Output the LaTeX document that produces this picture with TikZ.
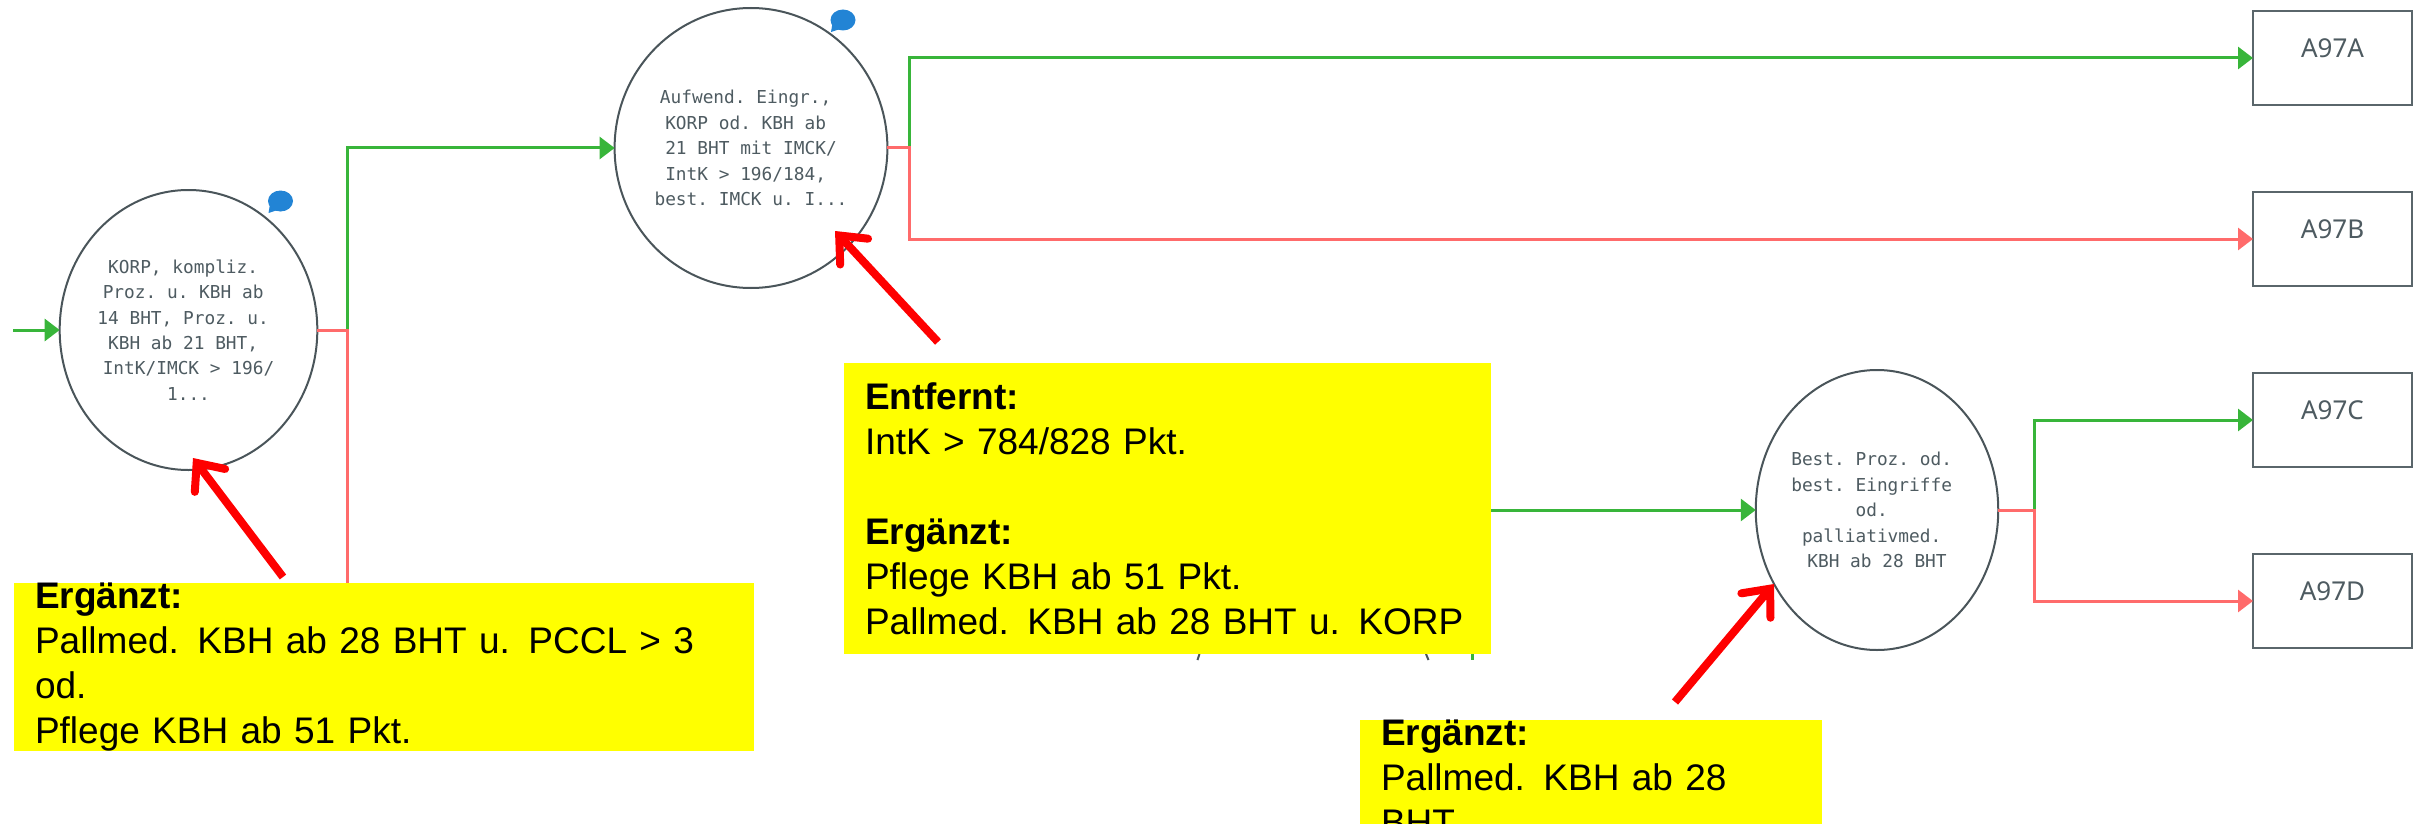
\documentclass[tikz,border=0pt]{standalone}
\usepackage{fontspec}
\setmainfont{Liberation Sans}
\setmonofont{DejaVu Sans Mono}
\newfontfamily\boxfont{Noto Sans}
\usetikzlibrary{arrows.meta, shapes.geometric}
\definecolor{yesgreen}{HTML}{38B53A}
\definecolor{nored}{HTML}{FF6B6B}
\definecolor{outline}{HTML}{4A555A}
\definecolor{boxline}{HTML}{5A666B}
\definecolor{nodetext}{HTML}{4E5B61}
\definecolor{notecol}{HTML}{2284D5}
\definecolor{callout}{HTML}{FFFF00}
\definecolor{pointer}{HTML}{FE0000}
\newcommand{\tsp}{\hphantom{x}}
\tikzset{
    decision/.style={ellipse, draw=outline, line width=1pt, fill=white, inner sep=0pt, outer sep=0pt, minimum width=119pt, minimum height=140pt, align=center, text=nodetext, font=\ttfamily\fontsize{8.9}{12.7}\selectfont, execute at begin node=\rule{0pt}{14pt}},
    exitbox/.style={rectangle, draw=boxline, line width=1.25pt, fill=white, inner sep=0pt, outer sep=0pt, minimum width=79.5pt, minimum height=47pt, text=nodetext, font=\boxfont\fontsize{13}{15}\selectfont, text depth=10pt},
    yesline/.style={draw=yesgreen, line width=1.5pt},
    noline/.style={draw=nored, line width=1.5pt},
    yestip/.style={-{Triangle[length=7.5pt, width=11pt]}},
    notebubble/.style={ellipse, fill=notecol, inner sep=0pt, minimum width=12.5pt, minimum height=10.5pt},
    calloutbox/.style={rectangle, fill=callout, anchor=north west, inner xsep=10.5pt, inner ysep=0pt, outer sep=0pt, align=left, font=\fontsize{18.5}{22.5}\selectfont},
    pointerline/.style={draw=pointer, line width=4pt, -{Straight Barb[length=11pt, width=19pt, line cap=round]}}
}
\begin{document}
\begin{tikzpicture}[x=0.5pt, y=-0.5pt]
    \useasboundingbox (0, 0) rectangle (2425, 824);

    \node (korp)[decision] at (188.5, 330) {KORP, kompliz.\tsp\\Proz. u. KBH ab\tsp\\14 BHT, Proz. u.\tsp\\KBH ab 21 BHT,\tsp\\IntK/IMCK > 196/\\1...};
    \node (aufwend)[decision] at (751, 148) {Aufwend. Eingr.,\tsp\\KORP od. KBH ab\tsp\\21 BHT mit IMCK/\\IntK > 196/184,\tsp\\best. IMCK u. I...};
    \node (best)[decision] at (1877, 510) {Best. Proz. od.\tsp\\best. Eingriffe\tsp\\od.\tsp\\palliativmed.\tsp\\KBH ab 28 BHT};

    \node (a97a)[exitbox] at (2332.5, 58) {A97A};
    \node (a97b)[exitbox] at (2332.5, 239) {A97B};
    \node (a97c)[exitbox] at (2332.5, 420) {A97C};
    \node (a97d)[exitbox] at (2332.5, 601) {A97D};

    \coordinate (entry) at (13, 330);
    \coordinate (korpfork) at (347, 330);
    \coordinate (korpend) at (347, 590);
    \coordinate (aufwendfork) at (909, 148);
    \coordinate (bestfork) at (2034, 510);
    \coordinate (hiddenfork) at (1472, 510);
    \coordinate (hiddenend) at (1472, 660);

    \draw [yesline, yestip] (entry) -- (korp.west);
    \draw [yesline, yestip] (korp.east) -- (korpfork) |- (aufwend.west);
    \draw [noline] (korp.east) -- (korpfork) -- (korpend);
    \draw [yesline, yestip] (aufwend.east) -- (aufwendfork) |- (a97a.west);
    \draw [noline, yestip] (aufwend.east) -- (aufwendfork) |- (a97b.west);
    \draw [yesline, yestip] (hiddenfork) -- (best.west);
    \draw [yesline] (hiddenfork) -- (hiddenend);
    \draw [yesline, yestip] (best.east) -- (bestfork) |- (a97c.west);
    \draw [noline, yestip] (best.east) -- (bestfork) |- (a97d.west);

    \node (notekorp)[notebubble] at (280.5, 201) {};
    \node (noteaufwend)[notebubble] at (843, 20) {};
    \foreach \n in {notekorp, noteaufwend}
        \fill [notecol] ([shift={(-12, 12)}]\n.center) -- ([shift={(-10, 0)}]\n.center) -- ([shift={(0, 8)}]\n.center) -- cycle;

    % remains of the covered node
    \draw [outline, line width=1pt] (1199.5, 654) -- (1197.5, 660);
    \draw [outline, line width=1pt] (1426, 654) -- (1428.5, 660);

    \node (addkorp)[calloutbox, minimum width=370pt, minimum height=77.5pt, text width=349pt] at (14, 583) {\textbf{Ergänzt:}\\Pallmed. KBH ab 28 BHT u. PCCL > 3 od.\\Pflege KBH ab 51 Pkt.};
    \node (changeaufwend)[calloutbox, minimum width=323.5pt, minimum height=145.5pt, text width=302.5pt] at (844, 363) {\textbf{Entfernt:}\\IntK > 784/828 Pkt.\\[22.5pt]\textbf{Ergänzt:}\\Pflege KBH ab 51 Pkt.\\Pallmed. KBH ab 28 BHT u. KORP};
    \node (addbest)[calloutbox, minimum width=231pt, minimum height=52pt, text width=210pt] at (1360, 720) {\textbf{Ergänzt:}\\Pallmed. KBH ab 28 BHT};

    \coordinate (korptail) at (283, 577);
    \coordinate (korptip) at (193, 458);
    \coordinate (aufwendtail) at (938, 342);
    \coordinate (aufwendtip) at (835, 231);
    \coordinate (besttail) at (1675, 702);
    \coordinate (besttip) at (1774, 584);

    \draw [pointerline] (korptail) -- (korptip);
    \draw [pointerline] (aufwendtail) -- (aufwendtip);
    \draw [pointerline] (besttail) -- (besttip);
\end{tikzpicture}
\end{document}
